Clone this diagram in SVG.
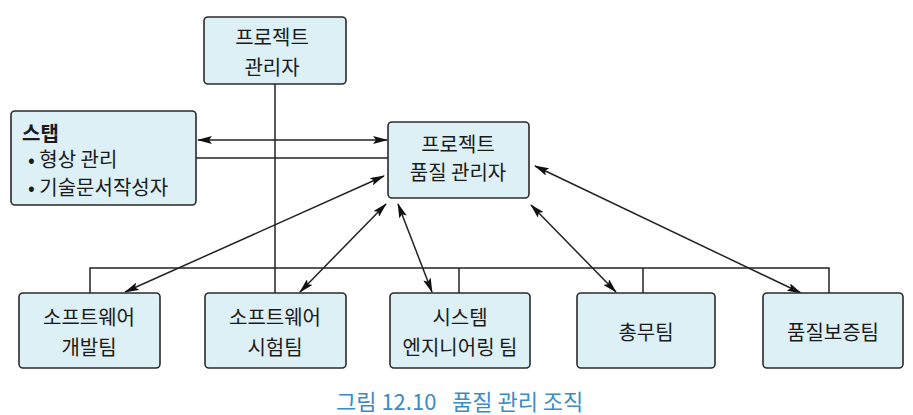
<svg xmlns="http://www.w3.org/2000/svg" width="913" height="415" viewBox="0 0 913 415">
<style>
.box{fill:#dcf0f6;stroke:#2a2a2a;stroke-width:1.6}
.t{font-family:"Noto Sans CJK KR","Noto Sans",sans-serif;font-size:20px;fill:#1a1a1a;text-anchor:middle}
.tl{font-family:"Noto Sans CJK KR","Noto Sans",sans-serif;font-size:20px;fill:#1a1a1a}
.ln{stroke:#222;stroke-width:1.5;fill:none}
.ar{stroke:#222;stroke-width:1.5;fill:none;marker-start:url(#ah);marker-end:url(#ah)}
.cap{font-family:"Noto Sans CJK KR","Noto Sans",sans-serif;font-size:22px;fill:#3a8cc4}
</style>
<defs>
<marker id="ah" viewBox="0 0 15 8" refX="14" refY="4" markerWidth="15" markerHeight="8" markerUnits="userSpaceOnUse" orient="auto-start-reverse">
<path d="M0,0 L15,4 L0,8 L3,4 Z" fill="#111"/>
</marker>
</defs>
<g id="connectors">
<line class="ln" x1="275" y1="84" x2="275" y2="293"/>
<polyline class="ln" points="90,293 90,268 829,268 829,293"/>
<line class="ln" x1="459" y1="268" x2="459" y2="293"/>
<line class="ln" x1="643" y1="268" x2="643" y2="293"/>
<line class="ar" x1="198" y1="140" x2="387" y2="140"/>
<line class="ln" x1="196" y1="158" x2="388" y2="158"/>
<line class="ar" x1="384" y1="176" x2="125" y2="292"/>
<line class="ar" x1="386" y1="204" x2="300" y2="292"/>
<line class="ar" x1="398" y1="204" x2="432" y2="292"/>
<line class="ar" x1="531" y1="205" x2="616" y2="292"/>
<line class="ar" x1="535" y1="166" x2="801" y2="293"/>
</g>
<g id="pm">
<rect class="box" x="204" y="17" width="142" height="67" rx="4"/>
<text class="t" x="272" y="45">프로젝트</text>
<text class="t" x="272" y="75">관리자</text>
</g>
<g id="staff">
<rect class="box" x="11" y="111" width="185" height="94" rx="4"/>
<text class="tl" x="22" y="141" font-weight="bold">스탭</text>
<text class="tl" x="28" y="167">• 형상 관리</text>
<text class="tl" x="28" y="195">• 기술문서작성자</text>
</g>
<g id="pqm">
<rect class="box" x="388" y="122" width="141" height="76" rx="4"/>
<text class="t" x="458" y="152">프로젝트</text>
<text class="t" x="458" y="180">품질 관리자</text>
</g>
<g id="dev">
<rect class="box" x="19" y="293" width="141" height="75" rx="4"/>
<text class="t" x="89" y="325">소프트웨어</text>
<text class="t" x="89" y="355">개발팀</text>
</g>
<g id="test">
<rect class="box" x="205" y="293" width="141" height="75" rx="4"/>
<text class="t" x="275" y="325">소프트웨어</text>
<text class="t" x="275" y="355">시험팀</text>
</g>
<g id="sys">
<rect class="box" x="390" y="293" width="140" height="75" rx="4"/>
<text class="t" x="460" y="325">시스템</text>
<text class="t" x="460" y="355">엔지니어링 팀</text>
</g>
<g id="admin">
<rect class="box" x="577" y="293" width="138" height="75" rx="4"/>
<text class="t" x="646" y="340">총무팀</text>
</g>
<g id="qa">
<rect class="box" x="763" y="293" width="140" height="75" rx="4"/>
<text class="t" x="833" y="340">품질보증팀</text>
</g>
<text class="cap" y="410"><tspan x="336">그림 12.10</tspan><tspan x="452">품질 관리 조직</tspan></text>
</svg>
